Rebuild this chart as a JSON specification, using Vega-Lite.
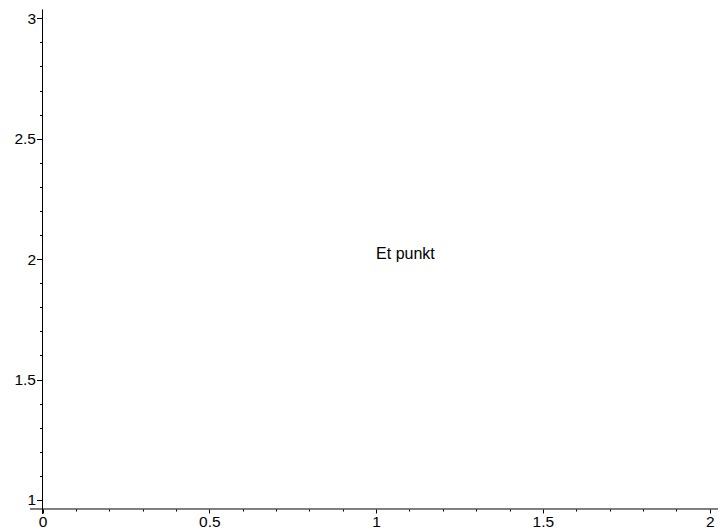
{
  "$schema": "https://vega.github.io/schema/vega-lite/v6.json",
  "width": 718,
  "height": 532,
  "autosize": "none",
  "padding": 0,
  "background": "white",
  "config": {
    "view": {"stroke": null},
    "axis": {"grid": false, "domain": false, "labelFont": "Liberation Sans", "labelFontSize": 15.5, "labelColor": "black", "tickColor": "black", "title": null}
  },
  "resolve": {"axis": {"x": "independent", "y": "independent"}},
  "datasets": {
    "axes": [
      {"x1": -0.0375, "x2": 2.03, "y1": 0.9626, "y2": 0.9626},
      {"x1": 0, "x2": 0, "y1": 0.942, "y2": 3.037}
    ],
    "pts": [
      {"x": 1, "y": 2, "label": "Et punkt"}
    ]
  },
  "layer": [
    {
      "data": {"name": "axes"},
      "mark": {"type": "rule", "color": "black", "strokeWidth": 1},
      "encoding": {
        "x": {"field": "x1", "type": "quantitative", "scale": {"domain": [-0.1274, 2.0249], "nice": false, "zero": false},
          "axis": {"orient": "bottom", "offset": -23, "values": [0, 0.5, 1, 1.5, 2], "format": "~g", "tickSize": 4, "labelPadding": 1, "labelFlush": false, "labelOverlap": false}},
        "x2": {"field": "x2"},
        "y": {"field": "y1", "type": "quantitative", "scale": {"domain": [0.8671, 3.076], "nice": false, "zero": false},
          "axis": {"orient": "left", "offset": -42.5, "values": [1, 1.5, 2, 2.5, 3], "format": "~g", "tickSize": 6, "labelPadding": 1, "labelFlush": false, "labelOverlap": false}},
        "y2": {"field": "y2"}
      }
    },
    {
      "data": {"name": "pts"},
      "mark": {"type": "text", "align": "left", "baseline": "alphabetic", "font": "Liberation Sans", "fontSize": 16, "color": "black"},
      "encoding": {
        "x": {"field": "x", "type": "quantitative",
          "axis": {"orient": "bottom", "offset": -23, "values": [0.1, 0.2, 0.3, 0.4, 0.6, 0.7, 0.8, 0.9, 1.1, 1.2, 1.3, 1.4, 1.6, 1.7, 1.8, 1.9], "tickSize": 2, "labels": false}},
        "y": {"field": "y", "type": "quantitative",
          "axis": {"orient": "left", "offset": -42.5, "values": [1.1, 1.2, 1.3, 1.4, 1.6, 1.7, 1.8, 1.9, 2.1, 2.2, 2.3, 2.4, 2.6, 2.7, 2.8, 2.9], "tickSize": 3, "labels": false}},
        "text": {"field": "label"}
      }
    }
  ]
}
